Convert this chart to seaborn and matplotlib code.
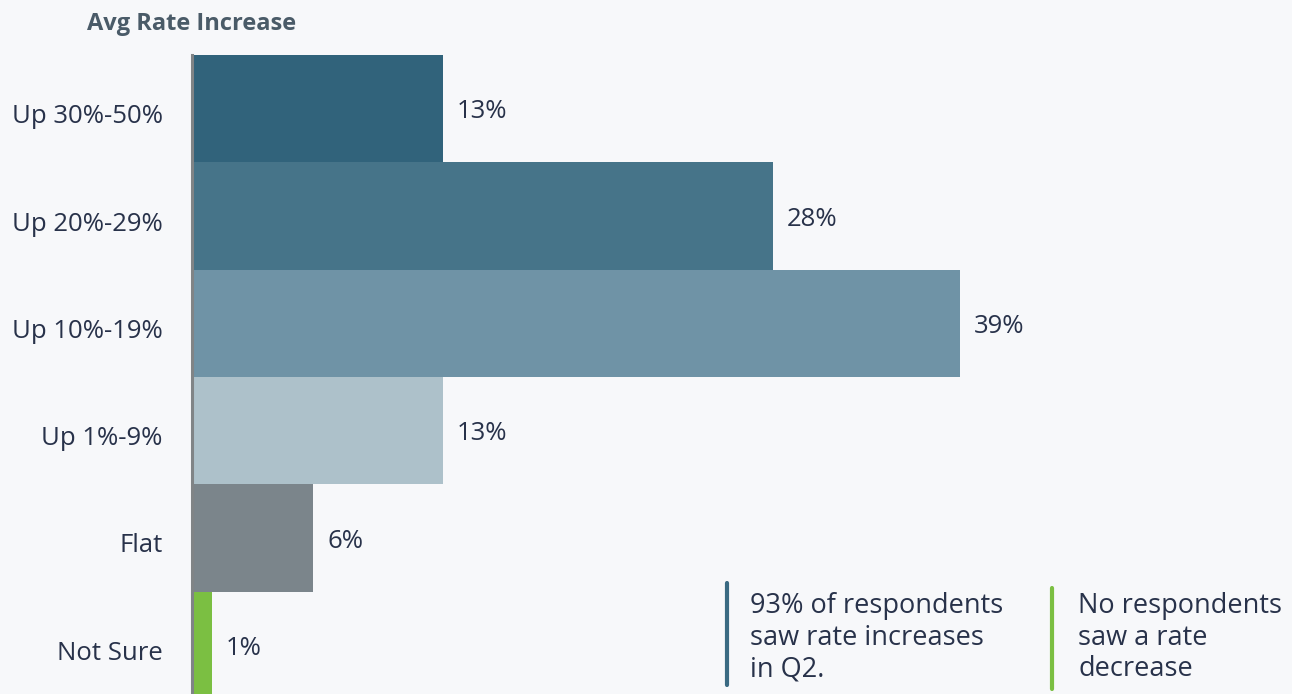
import matplotlib
matplotlib.use("Agg")
import matplotlib.pyplot as plt
import matplotlib.transforms as mtrans
import seaborn as sns
import pandas as pd
from matplotlib.lines import Line2D

categories = ["Up 30%-50%", "Up 20%-29%", "Up 10%-19%", "Up 1%-9%", "Flat", "Not Sure"]
values = [12.6, 29.2, 38.6, 12.6, 6.1, 1.0]
value_labels = ["13%", "28%", "39%", "13%", "6%", "1%"]
colors = ["#31637B", "#467489", "#6F93A6", "#ADC1CA", "#7B858B", "#7BBF42"]
title = "Avg Rate Increase"
note_left = "93% of respondents\nsaw rate increases\nin Q2."
note_right = "No respondents\nsaw a rate\ndecrease"

bg = "#F7F8FA"
txt = "#28324A"

sns.set_theme(style="white")
plt.rcParams["font.family"] = ["Open Sans", "DejaVu Sans"]

df = pd.DataFrame({"cat": categories, "val": values})

fig = plt.figure(figsize=(12.92, 6.94), dpi=100, facecolor=bg)
W, H = 1292, 694
ax_left = 192 / W
ax_top = 1 - 55 / H
ax_bottom = 1 - 699 / H
ax_width = (55 * 19.9) / W
ax = fig.add_axes([ax_left, ax_bottom, ax_width, ax_top - ax_bottom])
ax.set_facecolor(bg)

sns.barplot(data=df, y="cat", x="val", hue="cat", palette=colors, orient="h",
            width=1.0, legend=False, ax=ax, saturation=1.0, linewidth=0)
ax.set_xlim(0, 55)
ax.set_ylim(5.5, -0.5)
ax.set_xlabel("")
ax.set_ylabel("")
ax.set_xticks([])
ax.set_yticks(range(len(categories)))
ax.set_yticklabels(categories)
for s in ["top", "right", "bottom"]:
    ax.spines[s].set_visible(False)
ax.spines["left"].set_color("#808486")
ax.spines["left"].set_linewidth(2.2)
ax.tick_params(axis="y", length=0, pad=21, labelsize=18.5, labelcolor=txt)
shift = mtrans.ScaledTranslation(0, -5 / 100, fig.dpi_scale_trans)
for lab in ax.get_yticklabels():
    lab.set_transform(lab.get_transform() + shift)

label_off = mtrans.ScaledTranslation(14 / 100, -3 / 100, fig.dpi_scale_trans)
for i, (v, lab) in enumerate(zip(values, value_labels)):
    ax.text(v, i, lab, ha="left", va="center", fontsize=18.5, color=txt,
            transform=ax.transData + label_off)

fig.text(87 / W, 1 - 24 / H, title, ha="left", va="center", fontsize=17,
         fontweight="bold", color="#4A5B68")

fig.add_artist(Line2D([727 / W, 727 / W], [1 - 583 / H, 1 - 685 / H],
                      transform=fig.transFigure, color="#3A6A82", linewidth=3))
fig.add_artist(Line2D([1052 / W, 1052 / W], [1 - 588 / H, 1 - 689 / H],
                      transform=fig.transFigure, color="#7BBF42", linewidth=3))
fig.text(750 / W, 1 - 592 / H, note_left, ha="left", va="top", fontsize=19.5,
         color=txt, linespacing=1.17)
fig.text(1078 / W, 1 - 592 / H, note_right, ha="left", va="top", fontsize=19.5,
         color=txt, linespacing=1.17)

fig.savefig("out.png", dpi=100, facecolor=bg)
